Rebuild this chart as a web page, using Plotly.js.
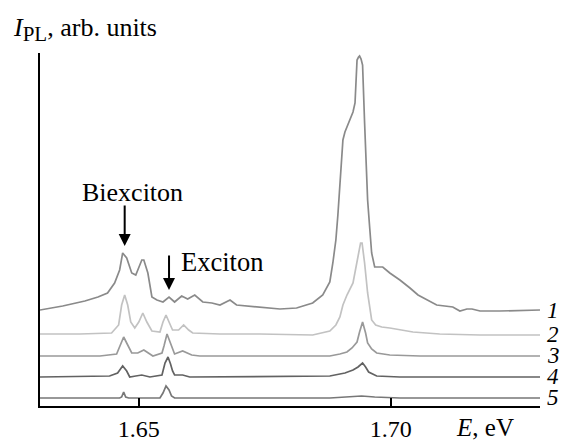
<!DOCTYPE html>
<html>
<head>
<meta charset="utf-8">
<script src="https://cdn.plot.ly/plotly-3.0.1.min.js"></script>
<style>html,body{margin:0;padding:0;background:#fff;}#chart{width:561px;height:441px;}</style>
</head>
<body>
<div id="chart"></div>
<script>
// Photon energy (eV) and PL intensity (arb. units, relative to each spectrum's baseline)
const E1 = [1.6304,1.6349,1.6393,1.6419,1.6438,1.6452,1.6462,1.6468,1.6476,1.6486,1.6494,1.6506,1.6510,1.6518,1.6526,1.6536,1.6548,1.6560,1.6571,1.6585,1.6597,1.6611,1.6627,1.6645,1.6661,1.6681,1.6694,1.6746,1.6780,1.6813,1.6845,1.6865,1.6879,1.6885,1.6891,1.6895,1.6901,1.6905,1.6909,1.6919,1.6925,1.6929,1.6931,1.6933,1.6936,1.6938,1.6941,1.6944,1.6948,1.6950,1.6954,1.6958,1.6962,1.6968,1.6978,1.6984,1.6998,1.7018,1.7038,1.7054,1.7091,1.7123,1.7137,1.7151,1.7161,1.7177,1.7216,1.7296];
const I1 = [1,5,10,14,18,28,41,58,53,38,36,51,51,38,14,11,9,14,9,15,12,16,9,8,6,11,6,4,2,3,8,16,29,48,71,96,138,171,179,191,199,208,231,251,254,255,252,246,188,156,111,84,58,44,44,44,38,31,23,16,6,4,0,2,2,0,0,1];

const E2 = [1.6304,1.6383,1.6446,1.6460,1.6466,1.6472,1.6478,1.6484,1.6492,1.6500,1.6508,1.6516,1.6526,1.6542,1.6548,1.6554,1.6560,1.6567,1.6579,1.6589,1.6599,1.6607,1.6661,1.6740,1.6845,1.6879,1.6891,1.6899,1.6905,1.6913,1.6925,1.6933,1.6940,1.6943,1.6948,1.6954,1.6962,1.6970,1.6982,1.6998,1.7018,1.7044,1.7097,1.7177,1.7296];
const I2 = [1,1,2,10,30,40,30,13,7,13,22,13,4,3,13,20,13,5,5,10,5,2,1,1,0,4,10,18,30,40,52,72,92,92,72,42,15,10,8,7,5,3,1,0,0];

const E3 = [1.6304,1.6423,1.6456,1.6464,1.6470,1.6476,1.6486,1.6498,1.6510,1.6528,1.6546,1.6550,1.6556,1.6562,1.6571,1.6587,1.6605,1.6621,1.6819,1.6879,1.6899,1.6913,1.6923,1.6933,1.6938,1.6944,1.6950,1.6954,1.6962,1.6972,1.6998,1.7058,1.7296];
const I3 = [0,0,2,11,19,13,3,3,6,0,3,10,22,14,2,5,1,0,0,0,2,4,8,14,24,34,23,13,7,3,1,0,0];

const E4 = [1.6304,1.6442,1.6458,1.6468,1.6476,1.6482,1.6494,1.6506,1.6522,1.6546,1.6552,1.6558,1.6563,1.6567,1.6571,1.6587,1.6601,1.6879,1.6909,1.6925,1.6935,1.6944,1.6950,1.6956,1.6972,1.7018,1.7296];
const I4 = [0,1,4,11,6,0,1,2,0,2,14,20,13,6,2,2,0,1,4,7,10,14,10,5,1,0,0];

const E5 = [1.6304,1.6462,1.6466,1.6470,1.6474,1.6480,1.6542,1.6548,1.6554,1.6560,1.6565,1.6571,1.6879,1.6919,1.6942,1.6968,1.7018,1.7296];
const I5 = [0,0,1,6,1,0,0,5,12,8,2,0,0,1,2,1,0,0];

// vertical offsets of the stacked spectra
const offsets = [95, 71, 50, 29, 8];
const curveLabels = ['1','2','3','4','5'];
const colors = ['#8a8a8a','#c2c2c2','#999999','#626262','#777777'];

const tickVals = [1.65, 1.70];
const tickText = ['1.65', '1.70'];

const Es = [E1,E2,E3,E4,E5];
const Is = [I1,I2,I3,I4,I5];

const FONT = '"Liberation Serif", "Times New Roman", serif';

const traces = Es.map((E, k) => ({
  x: E,
  y: Is[k].map(v => v + offsets[k]),
  type: 'scatter',
  mode: 'lines',
  line: {color: colors[k], width: 1.7},
  hoverinfo: 'skip',
  showlegend: false
}));

const annotations = [];
curveLabels.forEach((t, k) => {
  annotations.push({
    xref: 'paper', yref: 'y', x: 1.01, y: offsets[k] + 1,
    xanchor: 'left', yanchor: 'middle', showarrow: false,
    text: '<i>' + t + '</i>', font: {family: FONT, size: 23, color: '#000'}
  });
});
// arrows
annotations.push({x: 1.6472, y: 160, xref: 'x', yref: 'y', showarrow: true, ax: 0, ay: -42,
  arrowhead: 2, arrowsize: 1.2, arrowwidth: 2, arrowcolor: '#000', text: '', standoff: 0});
annotations.push({x: 1.6560, y: 116, xref: 'x', yref: 'y', showarrow: true, ax: 0, ay: -36,
  arrowhead: 2, arrowsize: 1.2, arrowwidth: 2, arrowcolor: '#000', text: '', standoff: 0});
annotations.push({x: 1.6488, y: 214, xref: 'x', yref: 'y', showarrow: false, xanchor: 'center', yanchor: 'middle',
  text: 'Biexciton', font: {family: FONT, size: 26, color: '#000'}});
annotations.push({x: 1.6579, y: 144, xref: 'x', yref: 'y', showarrow: false, xanchor: 'left', yanchor: 'middle',
  text: 'Exciton', font: {family: FONT, size: 26.5, color: '#000'}});
// axis titles
annotations.push({xref: 'paper', yref: 'paper', x: -0.058, y: 1.066, xanchor: 'left', yanchor: 'middle', showarrow: false,
  text: '<i>I</i><sub><span style="font-size:21px">PL</span></sub>, arb. units', font: {family: FONT, size: 26, color: '#000'}});
annotations.push({xref: 'paper', yref: 'paper', x: 0.828, y: -0.06, xanchor: 'left', yanchor: 'middle', showarrow: false,
  text: '<i>E</i>, eV', font: {family: FONT, size: 25, color: '#000'}});

const layout = {
  width: 561, height: 441,
  margin: {l: 40, r: 21, t: 53, b: 35, pad: 0},
  paper_bgcolor: '#fff', plot_bgcolor: '#fff',
  font: {family: FONT, size: 24, color: '#000'},
  showlegend: false,
  xaxis: {
    range: [1.6304, 1.7296], showgrid: false, zeroline: false,
    showline: true, linecolor: '#000', linewidth: 2,
    ticks: 'inside', ticklen: 8, tickwidth: 2, tickcolor: '#000',
    tickvals: tickVals, ticktext: tickText,
    tickfont: {family: FONT, size: 24, color: '#000'}
  },
  yaxis: {
    range: [0, 353], showgrid: false, zeroline: false,
    showline: true, linecolor: '#000', linewidth: 2,
    ticks: '', showticklabels: false
  },
  annotations: annotations
};

Plotly.newPlot('chart', traces, layout, {staticPlot: true, displayModeBar: false});
</script>
</body>
</html>
